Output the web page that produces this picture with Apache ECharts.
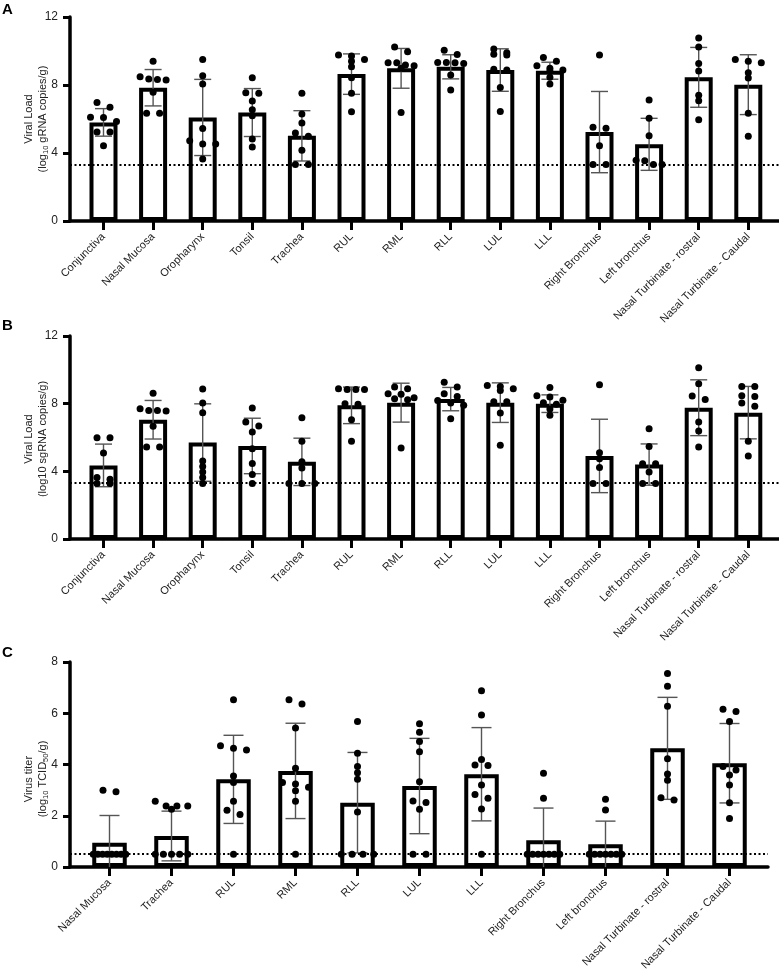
<!DOCTYPE html>
<html>
<head>
<meta charset="utf-8">
<script src="https://cdn.jsdelivr.net/npm/echarts@6/dist/echarts.min.js"></script>
<style>
html,body{margin:0;padding:0;background:#fff;}
#chart{width:779px;height:975px;}
</style>
</head>
<body>
<div id="chart"></div>
<script>
// ---------- DATA ----------
const catsAB = ['Conjunctiva','Nasal Mucosa','Oropharynx','Tonsil','Trachea','RUL','RML','RLL','LUL','LLL','Right Bronchus','Left bronchus','Nasal Turbinate - rostral','Nasal Turbinate - Caudal'];
const catsC = ['Nasal Mucosa','Trachea','RUL','RML','RLL','LUL','LLL','Right Bronchus','Left bronchus','Nasal Turbinate - rostral','Nasal Turbinate - Caudal'];

const meanA = [5.80, 7.84, 6.09, 6.38, 5.01, 8.64, 8.98, 9.07, 8.88, 8.84, 5.23, 4.51, 8.45, 8.02];
const sdA   = [0.81, 1.07, 2.24, 1.41, 1.48, 1.19, 1.17, 0.71, 1.25, 0.50, 2.39, 1.53, 1.76, 1.76];
const ptsA = [
  [6.97, 6.69, 6.11, 6.09, 5.85, 5.23, 5.23, 4.43],
  [9.40, 8.49, 8.35, 8.33, 8.29, 7.57, 6.34, 6.34],
  [9.50, 8.55, 8.06, 5.44, 4.72, 4.53, 4.53, 3.65],
  [8.43, 7.55, 7.51, 7.06, 6.54, 6.19, 4.82, 4.35],
  [7.51, 6.30, 5.76, 5.17, 4.98, 4.16, 3.32, 3.32],
  [9.76, 9.70, 9.50, 9.40, 9.07, 8.43, 7.51, 6.42],
  [10.24, 9.95, 9.31, 9.31, 9.17, 9.13, 8.98, 6.38],
  [10.05, 9.80, 9.33, 9.33, 9.31, 9.27, 8.59, 7.71],
  [10.12, 9.90, 9.81, 9.76, 8.92, 8.88, 7.86, 6.44],
  [9.62, 9.40, 9.13, 8.98, 8.88, 8.82, 8.45, 8.06],
  [9.76, 5.52, 5.46, 4.43, 3.32, 3.32],
  [7.12, 6.05, 5.01, 3.57, 3.55, 3.32, 3.32],
  [10.77, 10.24, 9.27, 8.82, 7.40, 7.08, 5.95],
  [9.50, 9.40, 9.31, 8.72, 8.41, 6.34, 4.98]
];

const meanB = [4.35, 7.05, 5.70, 5.50, 4.56, 7.90, 8.06, 8.27, 8.06, 8.00, 4.91, 4.40, 7.76, 7.47];
const sdB   = [1.26, 1.14, 2.29, 1.64, 1.40, 1.08, 1.15, 0.69, 1.17, 0.52, 2.17, 1.22, 1.65, 1.55];
const ptsB = [
  [5.98, 5.98, 5.08, 3.63, 3.53, 3.28, 3.28],
  [8.62, 7.70, 7.60, 7.60, 7.56, 6.66, 5.44, 5.44],
  [8.86, 8.04, 7.47, 4.61, 4.29, 3.96, 3.63, 3.28],
  [7.74, 6.92, 6.68, 6.33, 5.34, 4.46, 3.81, 3.28],
  [7.17, 5.78, 4.56, 4.20, 3.28, 3.28, 3.28],
  [8.88, 8.84, 8.84, 8.84, 8.00, 7.96, 7.05, 5.78],
  [8.98, 8.88, 8.59, 8.55, 8.35, 8.29, 8.23, 5.38],
  [9.27, 8.98, 8.59, 8.43, 8.19, 8.04, 7.90, 7.11],
  [9.08, 9.02, 8.88, 8.78, 8.11, 8.11, 7.45, 5.54],
  [8.96, 8.47, 8.40, 8.20, 8.06, 7.96, 7.69, 7.31],
  [9.12, 5.10, 4.75, 4.22, 3.28, 3.28],
  [6.51, 5.47, 4.45, 4.45, 3.96, 3.28, 3.28],
  [10.12, 9.17, 8.45, 8.25, 6.92, 6.39, 5.44],
  [9.02, 9.02, 8.47, 8.43, 8.04, 7.84, 5.78, 4.90]
];

const meanC = [0.95, 1.21, 3.42, 3.75, 2.51, 3.16, 3.62, 1.04, 0.89, 4.63, 4.05];
const sdC   = [1.06, 0.97, 1.72, 1.86, 1.96, 1.86, 1.82, 1.26, 0.90, 1.99, 1.55];
const ptsC = [
  [3.00, 2.94, 0.5, 0.5, 0.5, 0.5, 0.5, 0.5, 0.5, 0.5],
  [2.57, 2.38, 2.38, 2.38, 2.25, 0.5, 0.5, 0.5, 0.5, 0.5],
  [6.53, 4.73, 4.63, 4.57, 3.55, 3.30, 2.57, 2.21, 2.05, 0.5],
  [6.53, 6.36, 5.42, 3.85, 3.30, 3.24, 3.11, 2.98, 2.57, 0.5],
  [5.68, 4.44, 3.92, 3.68, 3.42, 2.15, 0.5, 0.5, 0.5, 0.5],
  [5.59, 5.26, 4.90, 4.50, 3.33, 2.58, 2.52, 2.25, 0.5, 0.5],
  [6.88, 5.93, 4.20, 3.98, 3.96, 3.20, 2.83, 2.68, 2.26, 0.5],
  [3.66, 2.68, 0.5, 0.5, 0.5, 0.5, 0.5, 0.5, 0.5],
  [2.64, 2.22, 0.5, 0.5, 0.5, 0.5, 0.5, 0.5, 0.5],
  [7.55, 7.05, 6.27, 4.22, 3.63, 3.39, 2.70, 2.61],
  [6.16, 6.07, 5.68, 3.92, 3.79, 3.59, 3.20, 2.51, 1.89]
];

const lodAB = 3.3;
const lodC = 0.5;

// ---------- LAYOUT ----------
const FONT = "'Liberation Sans', Arial, sans-serif";
const panels = [
  {cats: catsAB, mean: meanA, sd: sdA, pts: ptsA, lod: lodAB, yMax: 12, yInt: 4,
   grid: {left: 70, top: 17, width: 709, height: 204}, band: 49.6, first: 103.5, barW: 28, capW: 17,
   title: '{t|Viral Load}\n{t|(log}{s|10}{t| gRNA copies/g)}', titleY: 119, letter: 'A', letterY: 2},
  {cats: catsAB, mean: meanB, sd: sdB, pts: ptsB, lod: lodAB, yMax: 12, yInt: 4,
   grid: {left: 70, top: 336, width: 709, height: 203}, band: 49.6, first: 103.5, barW: 28, capW: 17,
   title: '{t|Viral Load}\n{t|(log10 sgRNA copies/g)}', titleY: 439, letter: 'B', letterY: 318},
  {cats: catsC, mean: meanC, sd: sdC, pts: ptsC, lod: lodC, yMax: 8, yInt: 2,
   grid: {left: 70, top: 662, width: 698, height: 205}, band: 62.0, first: 109.5, barW: 34.5, capW: 20,
   title: '{t|Virus titer}\n{t|(log}{s|10}{t| TCID}{s|50}{t|/g)}', titleY: 779, letter: 'C', letterY: 645}
];

// beeswarm-like spread of points that share similar values (GraphPad style rows)
function swarm(vals, pxPerUnit, halfW, bandPx) {
  const s = vals.slice().sort((a, b) => b - a);
  const out = [];
  let row = [];
  const flush = () => {
    const n = row.length;
    const sp = n > 1 ? Math.min(13, 2 * halfW / (n - 1)) : 0;
    row.forEach((v, k) => out.push([((k - (n - 1) / 2) * sp) / bandPx, v]));
    row = [];
  };
  for (const v of s) {
    if (row.length && (row[0] - v) * pxPerUnit > 5) flush();
    row.push(v);
  }
  flush();
  return out;
}

const grids = [], xAxes = [], yAxes = [], series = [], graphics = [];
panels.forEach((p, pi) => {
  grids.push(p.grid);
  const xmin = -(p.first - p.grid.left) / p.band;
  const xmax = xmin + p.grid.width / p.band;
  const idx = p.cats.map((c, i) => i);
  xAxes.push({
    type: 'value', gridIndex: pi, min: xmin, max: xmax,
    splitLine: {show: false},
    axisLine: {show: true, onZero: false, lineStyle: {color: '#000', width: 3.5}},
    axisTick: {show: true, customValues: idx, length: 9, lineStyle: {color: '#000', width: 3}},
    axisLabel: {show: true, customValues: idx, formatter: v => p.cats[Math.round(v)] || '',
      rotate: 45, margin: 14, fontSize: 11, fontFamily: FONT, color: '#222'}
  });
  yAxes.push({
    type: 'value', gridIndex: pi, min: 0, max: p.yMax, interval: p.yInt,
    splitLine: {show: false},
    axisLine: {show: true, onZero: false, lineStyle: {color: '#000', width: 3.5}},
    axisTick: {show: true, length: 7, lineStyle: {color: '#000', width: 3}},
    axisLabel: {fontSize: 12, fontFamily: FONT, color: '#222', margin: 12}
  });
  series.push({
    type: 'bar', xAxisIndex: pi, yAxisIndex: pi, silent: true, z: 2,
    barWidth: p.barW,
    data: p.mean.map((m, i) => [i, m]),
    itemStyle: {color: '#fff', borderColor: '#000', borderWidth: 4}
  });
  const capW = p.capW;
  series.push({
    type: 'custom', xAxisIndex: pi, yAxisIndex: pi, silent: true, z: 3,
    data: p.mean.map((m, i) => [i, m, p.sd[i]]),
    encode: {x: 0, y: 1},
    renderItem: (params, api) => {
      const i = api.value(0), m = api.value(1), s = api.value(2);
      const top = api.coord([i, m + s]);
      const lowV = m - s;
      const bot = api.coord([i, Math.max(0, lowV)]);
      const st = {stroke: '#555', lineWidth: 1.4};
      const ch = [
        {type: 'line', shape: {x1: top[0], y1: top[1], x2: bot[0], y2: bot[1]}, style: st},
        {type: 'line', shape: {x1: top[0] - capW / 2, y1: top[1], x2: top[0] + capW / 2, y2: top[1]}, style: st}
      ];
      if (lowV >= 0) ch.push({type: 'line', shape: {x1: bot[0] - capW / 2, y1: bot[1], x2: bot[0] + capW / 2, y2: bot[1]}, style: st});
      return {type: 'group', children: ch};
    }
  });
  const pxPerUnit = p.grid.height / p.yMax;
  const pts = [];
  p.pts.forEach((vals, i) => {
    swarm(vals, pxPerUnit, p.barW / 2 - 1, p.band).forEach(d => pts.push([i + d[0], d[1]]));
  });
  series.push({
    type: 'scatter', xAxisIndex: pi, yAxisIndex: pi, silent: true, z: 4,
    symbol: 'circle', symbolSize: 7, itemStyle: {color: '#000', opacity: 1},
    data: pts,
    markLine: {silent: true, symbol: 'none', label: {show: false},
      lineStyle: {color: '#000', width: 2, type: [2, 2.5], opacity: 1},
      data: [{yAxis: p.lod}]}
  });
  graphics.push({
    type: 'text', x: 36, y: p.titleY, rotation: Math.PI / 2,
    style: {text: p.title, align: 'center', verticalAlign: 'middle', fill: '#222',
      rich: {
        t: {fontSize: 11, fontFamily: FONT, lineHeight: 14, fill: '#222'},
        s: {fontSize: 7.5, fontFamily: FONT, lineHeight: 8, verticalAlign: 'bottom', fill: '#222'}
      }}
  });
  graphics.push({
    type: 'text', x: 2, y: p.letterY,
    style: {text: p.letter, font: 'bold 15px ' + FONT, fill: '#000'}
  });
});

const chart = echarts.init(document.getElementById('chart'), null, {renderer: 'canvas'});
chart.setOption({
  animation: false,
  backgroundColor: '#fff',
  grid: grids, xAxis: xAxes, yAxis: yAxes, series: series,
  graphic: graphics
});
</script>
</body>
</html>
